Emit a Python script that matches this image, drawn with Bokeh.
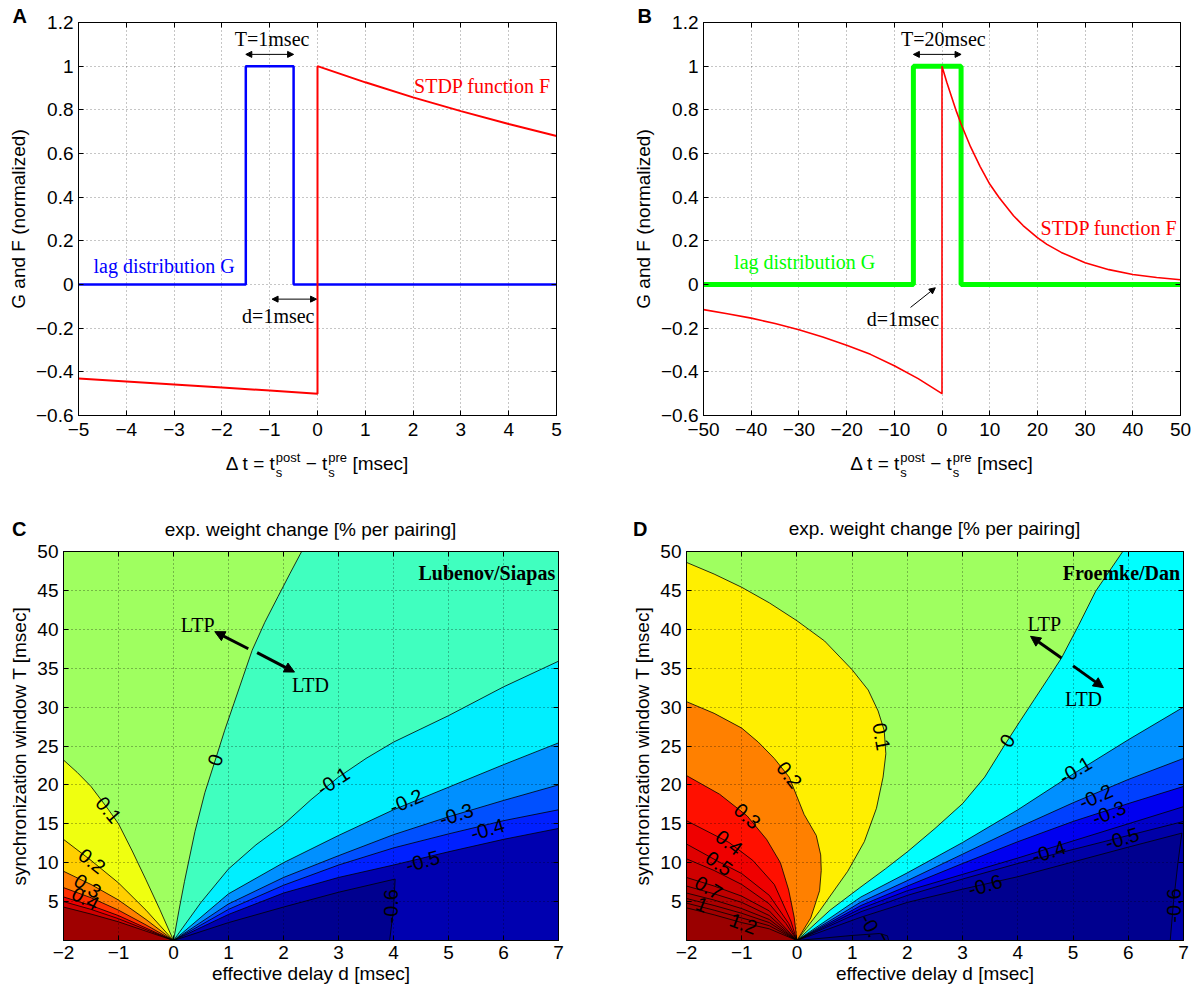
from bokeh.plotting import figure
from bokeh.models import (Range1d, FixedTicker, LinearAxis, Label, Arrow, Div, Title,
                          NormalHead, CustomJSTickFormatter, ColumnDataSource)
from bokeh.layouts import row, column
from bokeh.core.properties import value
from bokeh.embed import file_html
from bokeh.resources import INLINE

SANS = "Liberation Sans"
SERIF = "Liberation Serif"

# ------------------------------------------------------------------ data
# Panel A
A_xticks = [-5, -4, -3, -2, -1, 0, 1, 2, 3, 4, 5]
AB_yticks = [-0.6, -0.4, -0.2, 0, 0.2, 0.4, 0.6, 0.8, 1, 1.2]
A_G_t = [-5, -1.5, -1.5, -0.5, -0.5, 5]
A_G_val = [0, 0, 1, 1, 0, 0]
A_F_t = [-5, -4, -3, -2, -1, 0, 0, 1, 2, 3, 4, 5]
A_F_val = [-0.43, -0.444, -0.458, -0.472, -0.486, -0.5, 1.0, 0.926, 0.857, 0.794, 0.735, 0.68]

# Panel B
B_xticks = [-50, -40, -30, -20, -10, 0, 10, 20, 30, 40, 50]
B_G_t = [-50, -6, -6, 4, 4, 50]
B_G_val = [0, 0, 1, 1, 0, 0]
B_F_t = [-50, -45, -40, -35, -30, -25, -20, -15, -10, -5, 0, 0, 1, 2, 3, 4, 6, 8, 10,
         12, 15, 17, 20, 22, 25, 30, 35, 40, 45, 50]
B_F_val = [-0.115, -0.134, -0.154, -0.179, -0.207, -0.24, -0.278, -0.32, -0.372, -0.431,
           -0.5, 1.0, 0.926, 0.86, 0.794, 0.735, 0.63, 0.54, 0.46, 0.397, 0.315, 0.27,
           0.215, 0.184, 0.147, 0.10, 0.068, 0.046, 0.032, 0.022]

# Panels C / D axes
CD_d_range = (-2, 7)
CD_T_range = (0, 50)
CD_xticks = [-2, -1, 0, 1, 2, 3, 4, 5, 6, 7]
CD_yticks = [5, 10, 15, 20, 25, 30, 35, 40, 45, 50]

# Panel C contour lines (effective delay d, window T), from the origin outwards
C_m06_d = [0, 1.0, 2.0, 3.0, 4.03, 4.0, 3.93]
C_m06_T = [0, 2.3, 4.3, 6.2, 7.9, 4.0, 0]
C_fan_d = [0, 1, 2, 3, 4, 5, 6, 7]
C_m05_T = [0, 3.35, 6.1, 8.1, 9.7, 11.4, 13.0, 14.4]
C_m04_T = [0, 4.0, 7.1, 9.7, 11.9, 13.7, 15.4, 16.8]
C_m03_T = [0, 4.7, 8.1, 10.9, 13.6, 15.9, 18.0, 20.0]
C_m02_T = [0, 6.0, 10.0, 13.5, 16.8, 19.7, 22.6, 25.4]
C_m01_d = [0, 0.5, 1.0, 1.5, 2.0, 2.5, 3.0, 3.5, 4.0, 5.0, 6.0, 7.0]
C_m01_T = [0, 4.9, 9.2, 12.3, 14.9, 18.1, 21.0, 23.4, 25.5, 28.9, 32.6, 35.9]
C_z_d = [0, 0.1, 0.2, 0.39, 0.57, 0.76, 0.93, 1.1, 1.27, 1.43, 1.66, 1.9, 2.12, 2.33]
C_z_T = [0, 3.9, 7.6, 14.0, 19.0, 23.2, 27.0, 30.5, 34.0, 37.3, 40.9, 44.2, 47.2, 50]
C_p01_d = [0, -0.25, -0.5, -0.75, -1.0, -1.18, -1.5, -1.75, -2.0]
C_p01_T = [0, 4.0, 7.8, 11.5, 15.0, 16.8, 19.8, 21.6, 23.2]
C_pos_d = [0, -0.5, -1.0, -1.5, -2.0]
C_p02_T = [0, 3.9, 7.4, 10.3, 13.0]
C_p03_T = [0, 2.7, 5.2, 7.2, 8.9]
C_p04_T = [0, 2.0, 3.9, 5.5, 6.8]
C_p05_T = [0, 1.6, 3.2, 4.5, 5.6]
C_p06_T = [0, 1.4, 2.8, 4.0, 5.0]
C_p07_T = [0, 1.2, 2.4, 3.4, 4.3]
C_levels = [-0.6, -0.5, -0.4, -0.3, -0.2, -0.1, 0.0, 0.1, 0.2, 0.3, 0.4, 0.5, 0.6, 0.7]
C_lab_text = ["0.1", "0.2", "0.3", "0.4", "0", "-0.1", "-0.2", "-0.3", "-0.4", "-0.5", "-0.6"]
C_lab_d = [-1.18, -1.48, -1.56, -1.6, 0.76, 2.9, 4.23, 5.14, 5.71, 4.53, 3.96]
C_lab_T = [16.8, 10.2, 7.0, 5.4, 23.2, 20.5, 17.9, 16.2, 14.3, 10.2, 4.4]

# Panel D contour lines
D_m07_d = [0, 1.0, 1.5, 1.64, 1.66]
D_m07_T = [0, 0.65, 0.9, 0.6, 0]
D_m06_d = [0, 1.16, 2.0, 3.0, 4.0, 5.0, 6.0, 6.97, 6.9, 6.82, 6.76]
D_m06_T = [0, 3.0, 4.9, 6.6, 8.2, 10.1, 12.0, 13.8, 10.0, 5.0, 0]
D_fan_d = [0, 1.16, 2, 3, 4, 5, 6, 7]
D_m05_T = [0, 3.7, 5.8, 7.9, 9.9, 11.7, 13.5, 15.3]
D_m04_T = [0, 4.1, 6.4, 8.5, 10.6, 12.8, 15.0, 17.2]
D_m03_T = [0, 4.5, 7.0, 9.9, 12.7, 15.3, 17.6, 19.8]
D_m02_T = [0, 4.95, 7.7, 11.1, 14.5, 17.7, 20.7, 23.4]
D_m01_T = [0, 5.6, 8.7, 12.6, 16.8, 21.4, 25.8, 30.0]
D_z_d = [0, 0.6, 1.16, 1.6, 2, 2.5, 3, 3.4, 3.75, 4.05, 4.3, 4.55, 4.79, 5.1, 5.41, 5.66, 5.9]
D_z_T = [0, 3.9, 6.9, 9.2, 11.4, 14.4, 17.6, 21.0, 25.0, 28.3, 31.0, 33.7, 36.3, 40.5, 44.9,
         47.5, 50]
D_p01_d = [0, 0.4, 0.92, 1.22, 1.44, 1.56, 1.61, 1.58, 1.47, 1.29, 1.0, 0.5, 0, -0.5, -1,
           -1.5, -2]
D_p01_T = [0, 3.7, 8.9, 12.7, 17.0, 21.0, 24.0, 27.0, 29.5, 32.2, 34.8, 38.5, 41.1, 43.4,
           45.4, 47.1, 48.6]
D_p02_d = [0, 0.25, 0.41, 0.44, 0.43, 0.35, 0.13, -0.14, -0.41, -0.7, -1, -1.5, -2]
D_p02_T = [0, 2.9, 6.4, 9.0, 11.0, 13.5, 16.2, 21.0, 23.4, 25.5, 27.3, 29.2, 30.7]
D_p03_d = [0, -0.05, -0.15, -0.3, -0.55, -0.9, -1.4, -2]
D_p03_T = [0, 3.0, 6.5, 10.0, 13.0, 16.0, 18.8, 21.2]
D_p04_d = [0, -0.11, -0.41, -0.8, -1.23, -2]
D_p04_T = [0, 2.5, 7.2, 10.3, 12.6, 15.4]
D_p05_d = [0, -0.15, -0.5, -1.0, -1.41, -2]
D_p05_T = [0, 2.2, 5.8, 8.6, 10.1, 12.4]
D_p06_d = [0, -0.2, -0.5, -1, -1.5, -2]
D_p06_T = [0, 2.2, 4.7, 7.2, 9.0, 10.5]
D_pos_d = [0, -0.5, -1, -1.5, -2]
D_p07_T = [0, 3.8, 5.7, 7.0, 8.1]
D_p08_T = [0, 3.2, 4.9, 6.0, 7.0]
D_p09_T = [0, 2.7, 4.1, 5.2, 6.1]
D_p10_T = [0, 2.3, 3.5, 4.5, 5.4]
D_p11_T = [0, 1.9, 2.9, 3.9, 4.8]
D_p12_T = [0, 1.5, 2.3, 3.3, 4.2]
D_levels = [-0.7, -0.6, -0.5, -0.4, -0.3, -0.2, -0.1, 0.0, 0.1, 0.2, 0.3,
            0.4, 0.5, 0.6, 0.7, 0.8, 0.9, 1.0, 1.1, 1.2]
D_lab_text = ["0.1", "0.2", "0.3", "0.4", "0.5", "0.7", "1", "1.2", "0", "-0.1", "-0.2",
              "-0.3", "-0.4", "-0.5", "-0.6", "-0.6", "-0.7"]
D_lab_d = [1.53, -0.14, -0.9, -1.23, -1.41, -1.6, -1.72, -0.97, 3.81, 5.04, 5.41,
           5.65, 4.56, 5.89, 3.41, 6.83, 1.38]
D_lab_T = [26.2, 21.3, 16.0, 12.6, 9.9, 6.8, 4.6, 2.15, 25.7, 21.9, 18.5,
           16.4, 11.4, 13.1, 7.1, 4.5, 1.3]

# ------------------------------------------------------------------ styles
C_base_color = "#00008f"
C_colors = ["#0000b0", "#0020ff", "#0050ff", "#0090ff", "#00efff", "#40ffbf", "#9fff60",
            "#efff10", "#ffcf00", "#ff8000", "#ff3000", "#ee0000", "#cf0000", "#9f0000"]
C_lab_angle = [-50, -38, -33, -28, 74, 33, 23, 18, 16, 16, 90]
D_base_color = "#00007f"
D_colors = ["#00008f", "#0000a8", "#0000c8", "#0000f0", "#0040ff", "#0090ff", "#00ffff",
            "#9fff60", "#ffef00", "#ff8000", "#ff1000", "#ef0000", "#df0000", "#cf0000",
            "#bf0000", "#b30000", "#aa0000", "#a40000", "#a00000", "#9a0000"]
D_lab_angle = [-80, -52, -42, -38, -35, -30, -22, -20, 58, 31, 24, 22, 18, 17, 16, 90, -62]

MINUS_CODE = "var s = String(Math.round(tick*100)/100); return s.replace('-', '\u2212');"


def style_axis(ax, ticks, labels=True):
    ax.ticker = FixedTicker(ticks=ticks)
    ax.major_tick_in = 5
    ax.major_tick_out = 0
    ax.minor_tick_line_color = None
    ax.axis_line_color = "black"
    ax.major_tick_line_color = "black"
    if labels:
        ax.formatter = CustomJSTickFormatter(code=MINUS_CODE)
        ax.major_label_text_font = SANS
        ax.major_label_text_font_size = "19px"
        ax.major_label_text_color = "black"
        ax.major_label_standoff = 5
        ax.axis_label_text_font = SANS
        ax.axis_label_text_font_size = "19px"
        ax.axis_label_text_font_style = "normal"
        ax.axis_label_text_color = "black"
        ax.axis_label_standoff = 4
    else:
        ax.major_label_text_font_size = "1px"
        ax.major_label_text_color = None
        ax.major_label_standoff = 0


def base_fig(w, h, xr, yr, xticks, yticks, bl, br, bt, bb):
    p = figure(width=w, height=h, x_range=Range1d(*xr), y_range=Range1d(*yr),
               output_backend="svg", toolbar_location=None, title=None,
               min_border_left=bl, min_border_right=br,
               min_border_top=bt, min_border_bottom=bb)
    p.background_fill_color = "white"
    p.border_fill_color = "white"
    p.outline_line_color = "black"
    p.outline_line_width = 1
    p.outline_line_alpha = 1
    xa, ya = p.xaxis[0], p.yaxis[0]
    style_axis(xa, xticks)
    style_axis(ya, yticks)
    top = LinearAxis()
    style_axis(top, xticks, labels=False)
    p.add_layout(top, "above")
    right = LinearAxis()
    style_axis(right, yticks, labels=False)
    p.add_layout(right, "right")
    p.xgrid.ticker = FixedTicker(ticks=xticks)
    p.ygrid.ticker = FixedTicker(ticks=yticks)
    for g in (p.xgrid[0], p.ygrid[0]):
        g.grid_line_color = "black"
        g.grid_line_alpha = 0.45
        g.grid_line_dash = "1 3"
        g.grid_line_width = 1
    return p, xa, ya


def add_text(p, x, y, txt, color="black", size="20px", font=SERIF, style="normal",
             align="center", angle=0):
    p.add_layout(Label(x=x, y=y, text=txt, text_color=color, text_font=font,
                       text_font_size=size, text_font_style=style, text_align=align,
                       text_baseline="middle", angle=angle, angle_units="deg"))


def add_arrow(p, x0, y0, x1, y1, both=False, size=7, lw=1):
    head = dict(size=size, fill_color="black", line_color="black", line_width=1)
    p.add_layout(Arrow(x_start=x0, y_start=y0, x_end=x1, y_end=y1,
                       end=NormalHead(**head),
                       start=NormalHead(**head) if both else None,
                       line_width=lw, line_color="black"))


def letter_title(p, txt, offset):
    p.title = Title(text=txt, align="left", offset=offset, standoff=-8,
                    text_font=SANS, text_font_size="20px", text_font_style="bold",
                    text_color="black")


STACK = ("display:inline-flex;flex-direction:column;vertical-align:middle;"
         "font-size:13px;line-height:15px;text-align:left;margin-left:1px;")


def dt_label_div(width, frame_left, frame_width):
    html = (f'<div style="margin-left:{frame_left}px;width:{frame_width}px;text-align:center;'
            f"font-family:'{SANS}';font-size:19px;line-height:26px;color:black;"
            'white-space:nowrap;">'
            '\u0394 t = t'
            f'<span style="{STACK}"><span>post</span><span>s</span></span>'
            ' \u2212 t'
            f'<span style="{STACK}"><span>pre</span><span>s</span></span>'
            ' [msec]</div>')
    return Div(text=html, width=width, height=40, margin=0)


def region_poly(cd, ct, x0, x1, y0, y1):
    xs, ys = list(cd), list(ct)
    ex, ey = xs[-1], ys[-1]
    eps = 1e-6
    if ey <= y0 + eps and ex > 0:
        corners = [(x1, y0), (x1, y1), (x0, y1), (x0, y0)]
    elif ex >= x1 - eps:
        corners = [(x1, y1), (x0, y1), (x0, y0)]
    elif ey >= y1 - eps:
        corners = [(x0, y1), (x0, y0)]
    else:
        corners = [(x0, y0)]
    for cx, cy in corners:
        xs.append(cx)
        ys.append(cy)
    return xs, ys


def contour_panel(p, xa, ya, paths, colors, base_color, lab_d, lab_T, lab_text, lab_angle):
    x0, x1 = CD_d_range
    y0, y1 = CD_T_range
    p.background_fill_color = base_color
    px, py = [], []
    for cd, ct in paths:
        a, b = region_poly(cd, ct, x0, x1, y0, y1)
        px.append(a)
        py.append(b)
    p.patches(px, py, fill_color=colors, line_color=None)
    p.multi_line([list(c[0]) for c in paths], [list(c[1]) for c in paths],
                 line_color="black", line_width=0.8)
    src = ColumnDataSource(dict(x=lab_d, y=lab_T, text=lab_text, angle=lab_angle))
    p.text(x="x", y="y", text="text", angle="angle", angle_units="deg", source=src,
           text_font=value(SANS), text_font_size="20px", text_color="black",
           text_align="center", text_baseline="middle")
    for g in (p.xgrid[0], p.ygrid[0]):
        g.level = "overlay"
        g.grid_line_alpha = 0.55
    xa.axis_label = "effective delay d [msec]"
    ya.axis_label = "synchronization window T [msec]"
    xa.axis_label_standoff = 1


# ------------------------------------------------------------------ panel A
pA, xaA, yaA = base_fig(625, 450, (-5, 5), (-0.6, 1.2), A_xticks, AB_yticks, 78, 69, 22, 35)
yaA.axis_label = "G and F (normalized)"
xaA.major_label_standoff = 7
letter_title(pA, "A", -66)
pA.line(A_G_t, A_G_val, line_color="#0000ff", line_width=2.5)
pA.line(A_F_t, A_F_val, line_color="#ff0000", line_width=2)
add_text(pA, -0.95, 1.125, "T=1msec")
add_arrow(pA, -1.5, 1.054, -0.5, 1.054, both=True, size=6)
add_text(pA, -0.82, -0.142, "d=1msec")
add_arrow(pA, -0.95, -0.067, -0.02, -0.067, both=True, size=6)
add_text(pA, 3.45, 0.909, "STDP function F", color="#ff0000")
add_text(pA, -3.21, 0.087, "lag distribution G", color="#0000ff")
divA = dt_label_div(625, 78, 478)

# ------------------------------------------------------------------ panel B
pB, xaB, yaB = base_fig(572, 450, (-50, 50), (-0.6, 1.2), B_xticks, AB_yticks, 78, 17, 22, 35)
yaB.axis_label = "G and F (normalized)"
xaB.major_label_standoff = 7
letter_title(pB, "B", -66)
pB.line(B_G_t, B_G_val, line_color="#00ff00", line_width=5)
pB.line(B_F_t, B_F_val, line_color="#ff0000", line_width=1.6)
add_text(pB, 0.28, 1.125, "T=20msec")
add_arrow(pB, -6, 1.054, 4, 1.054, both=True, size=6)
add_text(pB, -8.2, -0.157, "d=1msec")
add_arrow(pB, -6.6, -0.105, -1.4, -0.015, size=6)
add_text(pB, 35.0, 0.257, "STDP function F", color="#ff0000")
add_text(pB, -28.8, 0.102, "lag distribution G", color="#00ff00")
divB = dt_label_div(572, 78, 477)

# ------------------------------------------------------------------ header for C / D
HDR_TITLE = "exp. weight change [% per pairing]"
hdr_html = (
    '<div style="position:relative;width:1197px;height:49px;color:black;'
    f"font-family:'{SANS}';\">"
    '<span style="position:absolute;left:12px;top:30px;font-size:20px;font-weight:bold;'
    'line-height:19px;">C</span>'
    '<div style="position:absolute;left:63px;width:495px;top:30px;text-align:center;'
    f'font-size:19px;line-height:19px;white-space:nowrap;">{HDR_TITLE}</div>'
    '<span style="position:absolute;left:633px;top:30px;font-size:20px;font-weight:bold;'
    'line-height:19px;">D</span>'
    '<div style="position:absolute;left:686px;width:497px;top:29px;text-align:center;'
    f'font-size:19px;line-height:19px;white-space:nowrap;">{HDR_TITLE}</div>'
    '</div>')
hdr = Div(text=hdr_html, width=1197, height=49, margin=0)

# ------------------------------------------------------------------ panel C
C_paths = [(C_m06_d, C_m06_T), (C_fan_d, C_m05_T), (C_fan_d, C_m04_T), (C_fan_d, C_m03_T),
           (C_fan_d, C_m02_T), (C_m01_d, C_m01_T), (C_z_d, C_z_T), (C_p01_d, C_p01_T),
           (C_pos_d, C_p02_T), (C_pos_d, C_p03_T), (C_pos_d, C_p04_T), (C_pos_d, C_p05_T),
           (C_pos_d, C_p06_T), (C_pos_d, C_p07_T)]
pC, xaC, yaC = base_fig(622, 451, CD_d_range, CD_T_range, CD_xticks, CD_yticks, 63, 64, 12, 50)
contour_panel(pC, xaC, yaC, C_paths, C_colors, C_base_color, C_lab_d, C_lab_T, C_lab_text,
              C_lab_angle)
add_text(pC, 6.94, 47.2, "Lubenov/Siapas", style="bold", align="right")
add_text(pC, 0.44, 40.6, "LTP")
add_text(pC, 2.49, 32.8, "LTD")
add_arrow(pC, 1.36, 37.5, 0.75, 39.7, size=10, lw=3)
add_arrow(pC, 1.52, 37.0, 2.2, 34.5, size=10, lw=3)

# ------------------------------------------------------------------ panel D
D_paths = [(D_m07_d, D_m07_T), (D_m06_d, D_m06_T), (D_fan_d, D_m05_T), (D_fan_d, D_m04_T),
           (D_fan_d, D_m03_T), (D_fan_d, D_m02_T), (D_fan_d, D_m01_T), (D_z_d, D_z_T),
           (D_p01_d, D_p01_T), (D_p02_d, D_p02_T), (D_p03_d, D_p03_T), (D_p04_d, D_p04_T),
           (D_p05_d, D_p05_T), (D_p06_d, D_p06_T), (D_pos_d, D_p07_T), (D_pos_d, D_p08_T),
           (D_pos_d, D_p09_T), (D_pos_d, D_p10_T), (D_pos_d, D_p11_T), (D_pos_d, D_p12_T)]
pD, xaD, yaD = base_fig(575, 451, CD_d_range, CD_T_range, CD_xticks, CD_yticks, 64, 14, 12, 50)
contour_panel(pD, xaD, yaD, D_paths, D_colors, D_base_color, D_lab_d, D_lab_T, D_lab_text,
              D_lab_angle)
add_text(pD, 6.94, 47.3, "Froemke/Dan", style="bold", align="right")
add_text(pD, 4.48, 40.7, "LTP")
add_text(pD, 5.19, 31.0, "LTD")
add_arrow(pD, 4.79, 36.3, 4.23, 39.1, size=10, lw=3)
add_arrow(pD, 5.0, 35.3, 5.55, 32.5, size=10, lw=3)

layout = column(row(column(pA, divA), column(pB, divB)),
                column(hdr, row(pC, pD)))
open("out.html", "w").write(file_html(layout, INLINE))
